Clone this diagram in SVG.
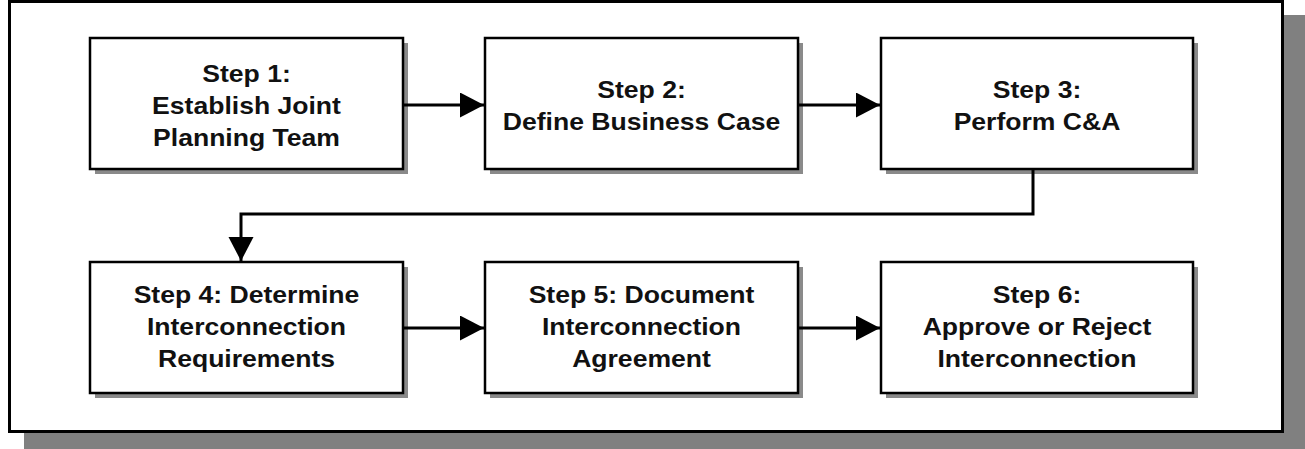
<svg xmlns="http://www.w3.org/2000/svg" width="1305" height="449" viewBox="0 0 1305 449">
<style>
.frame{fill:#fff;stroke:#000;stroke-width:3}
.shadow{fill:#808080}
.box{fill:#fff;stroke:#000;stroke-width:2.5}
.bshadow{fill:#8a8a8a}
.lbl{font-family:"Liberation Sans",Arial,sans-serif;font-weight:bold;font-size:24px;fill:#111;text-anchor:middle}
.conn{fill:none;stroke:#000;stroke-width:3}
</style>
<defs>
<marker id="arr" markerUnits="userSpaceOnUse" markerWidth="26" markerHeight="26" refX="24" refY="12.5" orient="auto">
<path d="M0,0 L24,12.5 L0,25 Z" fill="#000"/>
</marker>
</defs>
<g id="frame">
<rect class="shadow" x="24" y="15" width="1281" height="434"/>
<rect class="frame" x="9.5" y="1.5" width="1273" height="430"/>
</g>
<g id="step1">
<rect class="bshadow" x="95" y="43" width="313" height="131"/>
<rect class="box" x="90" y="38" width="313" height="131"/>
<g transform="translate(246.5 0) scale(1.107 1)">
<text class="lbl" x="0" y="82">Step 1:</text>
<text class="lbl" x="0" y="114">Establish Joint</text>
<text class="lbl" x="0" y="146">Planning Team</text>
</g>
</g>
<g id="step2">
<rect class="bshadow" x="490" y="43" width="313" height="131"/>
<rect class="box" x="485" y="38" width="313" height="131"/>
<g transform="translate(641.5 0) scale(1.107 1)">
<text class="lbl" x="0" y="98">Step 2:</text>
<text class="lbl" x="0" y="130">Define Business Case</text>
</g>
</g>
<g id="step3">
<rect class="bshadow" x="886" y="43" width="312" height="131"/>
<rect class="box" x="881" y="38" width="312" height="131"/>
<g transform="translate(1037 0) scale(1.107 1)">
<text class="lbl" x="0" y="98">Step 3:</text>
<text class="lbl" x="0" y="130">Perform C&amp;A</text>
</g>
</g>
<g id="step4">
<rect class="bshadow" x="95" y="267" width="313" height="131"/>
<rect class="box" x="90" y="262" width="313" height="131"/>
<g transform="translate(246.5 0) scale(1.107 1)">
<text class="lbl" x="0" y="303">Step 4: Determine</text>
<text class="lbl" x="0" y="335">Interconnection</text>
<text class="lbl" x="0" y="367">Requirements</text>
</g>
</g>
<g id="step5">
<rect class="bshadow" x="490" y="267" width="313" height="131"/>
<rect class="box" x="485" y="262" width="313" height="131"/>
<g transform="translate(641.5 0) scale(1.107 1)">
<text class="lbl" x="0" y="303">Step 5: Document</text>
<text class="lbl" x="0" y="335">Interconnection</text>
<text class="lbl" x="0" y="367">Agreement</text>
</g>
</g>
<g id="step6">
<rect class="bshadow" x="886" y="267" width="312" height="131"/>
<rect class="box" x="881" y="262" width="312" height="131"/>
<g transform="translate(1037 0) scale(1.107 1)">
<text class="lbl" x="0" y="303">Step 6:</text>
<text class="lbl" x="0" y="335">Approve or Reject</text>
<text class="lbl" x="0" y="367">Interconnection</text>
</g>
</g>
<g id="connectors">
<path class="conn" d="M403,105 L484,105" marker-end="url(#arr)"/>
<path class="conn" d="M798,105 L880,105" marker-end="url(#arr)"/>
<path class="conn" d="M1033,169 L1033,214 L241,214 L241,261" marker-end="url(#arr)"/>
<path class="conn" d="M403,328 L484,328" marker-end="url(#arr)"/>
<path class="conn" d="M798,328 L880,328" marker-end="url(#arr)"/>
</g>
</svg>
